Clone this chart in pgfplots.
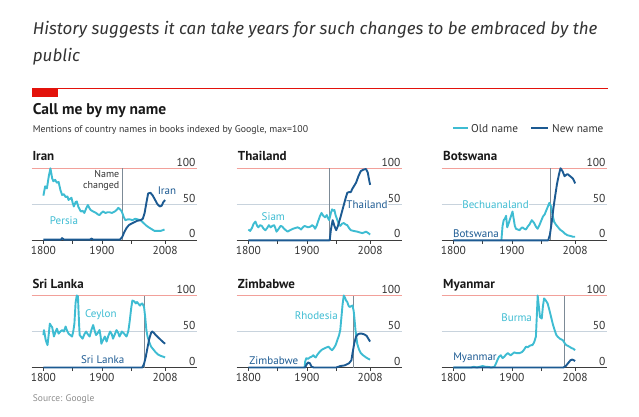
\documentclass[border=0pt]{standalone}
\usepackage{pgfplots}
\pgfplotsset{compat=1.18}
\usepackage{fontspec}
\setmainfont{PT Sans}
\newfontfamily\titlefont{Fira Sans}

\definecolor{oldc}{HTML}{3EBCD2}
\definecolor{newc}{HTML}{1C5A92}
\definecolor{redc}{HTML}{E3120B}
\definecolor{redgrid}{HTML}{F2A09A}
\definecolor{gridc}{HTML}{C8D3DD}
\definecolor{axisc}{HTML}{3D3D3D}
\definecolor{vlc}{HTML}{7C8A96}
\definecolor{txt}{HTML}{333333}
\definecolor{srcc}{HTML}{8C8C8C}

\pgfplotsset{
  panel/.style={
    scale only axis, width=165pt, height=72pt,
    xmin=1780, xmax=2062, ymin=0, ymax=100,
    axis x line*=bottom, axis y line=none,
    x axis line style={draw=axisc, line width=0.9pt, -},
    xtick={1800,1850,1900,1950,2008},
    xticklabels={1800,,1900,,2008},
    tick align=outside, major tick length=3.5pt,
    xtick style={draw=axisc, line width=0.7pt},
    xticklabel style={font=\fontsize{11.5}{13}\selectfont, text=txt, inner sep=1pt, yshift=-1.5pt},
    ytick=\empty,
    clip=false,
    anchor=south west,
  },
  oldline/.style={oldc, line width=1.9pt, line join=round, no marks},
  newline/.style={newc, line width=1.9pt, line join=round, no marks},
}

% grid, change marker and right-hand labels of one panel
\newcommand{\panelframe}[1]{%
  \draw[gridc, line width=0.8pt] (axis cs:1780,50) -- (axis cs:2062,50);
  \draw[redgrid, line width=0.9pt] (axis cs:1780,100) -- (axis cs:2062,100);
  \draw[vlc, line width=0.9pt] (axis cs:#1,0) -- (axis cs:#1,100);
  \node[anchor=south east, inner sep=0pt, font=\fontsize{11.5}{13}\selectfont, text=txt] at (axis cs:2060,102) {100};
  \node[anchor=south east, inner sep=0pt, font=\fontsize{11.5}{13}\selectfont, text=txt] at (axis cs:2060,52) {50};
  \node[anchor=south east, inner sep=0pt, font=\fontsize{11.5}{13}\selectfont, text=txt] at (axis cs:2060,3) {0};
}

\begin{document}
\begin{tikzpicture}
\useasboundingbox (0,0) rectangle (639pt,-417pt);

% ---------------- header ----------------
\node[anchor=base west, inner sep=0pt, text=txt, font=\titlefont\itshape\fontsize{17}{20}\selectfont] at (32.7pt,-35pt)
  {History suggests it can take years for such changes to be embraced by the};
\node[anchor=base west, inner sep=0pt, text=txt, font=\titlefont\itshape\fontsize{17}{20}\selectfont] at (32.7pt,-61.7pt) {public};
\draw[redc, line width=1pt] (32pt,-89pt) -- (608pt,-89pt);
\fill[redc] (32pt,-89pt) rectangle (58pt,-97pt);
\node[anchor=base west, inner sep=0pt, text=black!90, font=\bfseries\fontsize{15.5}{17}\selectfont] at (32.7pt,-114.7pt) {Call me by my name};
\node[anchor=base west, inner sep=0pt, text=txt, font=\fontsize{9.8}{12}\selectfont] at (32.7pt,-132pt)
  {Mentions of country names in books indexed by Google, max=100};
\draw[oldc, line width=2pt] (453pt,-128.3pt) -- (468pt,-128.3pt);
\node[anchor=base west, inner sep=0pt, text=txt, font=\fontsize{11.3}{13}\selectfont] at (471pt,-132pt) {Old name};
\draw[newc, line width=2pt] (531pt,-128.3pt) -- (548pt,-128.3pt);
\node[anchor=base west, inner sep=0pt, text=txt, font=\fontsize{11.3}{13}\selectfont] at (552pt,-132pt) {New name};

% ---------------- Iran ----------------
\begin{axis}[panel, at={(31.7pt,-240.3pt)}]
\panelframe{1935}
\addplot[oldline] coordinates {(1800,62)(1803,75)(1806,72)(1809,88)(1812,100)(1815,86)(1817,82)(1820,84)(1823,80)(1826,81)(1829,70)(1832,63)(1835,64)(1838,60)(1841,61)(1843,56)(1846,58)(1848,59)(1850,52)(1852,47)(1855,53)(1857,54)(1860,46)(1864,40)(1867,41)(1870,38)(1873,44)(1876,49)(1879,44)(1881,42)(1885,40)(1890,38)(1893,36)(1896,35)(1899,38)(1902,40)(1906,38)(1910,39)(1913,39)(1917,38)(1922,40)(1925,42)(1928,45)(1931,43)(1934,40)(1937,33)(1940,28)(1944,29)(1948,29)(1952,28)(1957,30)(1961,29)(1966,28)(1970,25)(1975,21)(1980,18)(1986,15)(1990,13)(1995,13)(2000,13)(2004,14)(2007,15)};
\addplot[newline] coordinates {(1800,1)(1815,1)(1830,1)(1832,3)(1835,1)(1860,1)(1880,1)(1882,2.5)(1885,1)(1910,1)(1931,1)(1935,5)(1938,11)(1942,17)(1946,21)(1950,23)(1955,25)(1960,27)(1966,28)(1970,30)(1973,38)(1976,52)(1979,65)(1983,66)(1987,62)(1991,56)(1995,50)(1999,47)(2002,48)(2005,53)(2008,56)};
\end{axis}

% ---------------- Thailand ----------------
\begin{axis}[panel, at={(236.7pt,-240.3pt)}]
\panelframe{1939}
\addplot[oldline] coordinates {(1800,15)(1803,13)(1806,17)(1809,23)(1812,26)(1815,20)(1817,18)(1820,21)(1823,20)(1826,16)(1829,14)(1832,17)(1835,21)(1838,18)(1841,20)(1844,21)(1846,17)(1848,12)(1851,15)(1855,20)(1858,19)(1861,16)(1864,14)(1867,12)(1871,14)(1876,16)(1880,17)(1884,18)(1887,17)(1890,15)(1893,18)(1896,20)(1899,19)(1902,18)(1906,19)(1909,21)(1912,19)(1914,16)(1917,21)(1919,26)(1922,33)(1925,38)(1928,34)(1931,32)(1934,35)(1936,31)(1938,28)(1941,38)(1943,43)(1945,41)(1947,42)(1949,35)(1952,28)(1955,22)(1957,20)(1960,23)(1963,24)(1966,22)(1969,21)(1972,17)(1975,14)(1980,13)(1986,12)(1990,11)(1995,10)(2001,12)(2005,10)(2008,8)};
\addplot[newline] coordinates {(1800,0)(1939,0)(1941,15)(1944,28)(1947,20)(1950,14)(1953,20)(1957,31)(1960,40)(1963,49)(1966,58)(1969,66)(1972,67)(1975,67)(1978,72)(1981,76)(1984,80)(1988,89)(1992,96)(1996,98)(2001,99)(2004,94)(2006,85)(2008,77)};
\end{axis}

% ---------------- Botswana ----------------
\begin{axis}[panel, at={(441.7pt,-240.3pt)}]
\panelframe{1966}
\addplot[oldline] coordinates {(1882,0)(1884,20)(1886,28)(1888,30)(1890,34)(1892,18)(1895,25)(1899,35)(1901,40)(1903,30)(1905,20)(1907,16)(1910,15)(1913,14)(1916,17)(1918,18)(1921,16)(1924,15)(1927,19)(1930,22)(1934,28)(1936,26)(1938,24)(1941,19)(1944,16)(1947,21)(1950,27)(1953,33)(1956,36)(1958,40)(1961,46)(1964,52)(1967,47)(1969,37)(1972,26)(1975,22)(1978,19)(1982,15)(1987,12)(1991,9)(1995,7)(2000,6)(2004,5)(2008,5)};
\addplot[newline] coordinates {(1800,0)(1962,0)(1965,8)(1968,25)(1971,45)(1974,62)(1977,78)(1980,90)(1983,100)(1985,98)(1987,95)(1990,89)(1993,91)(1995,92)(1998,90)(2001,88)(2004,86)(2006,83)(2008,79)};
\end{axis}

% ---------------- Sri Lanka ----------------
\begin{axis}[panel, at={(31.7pt,-367.5pt)}]
\panelframe{1972}
\addplot[oldline] coordinates {(1800,45)(1801,52)(1804,38)(1807,31)(1809,45)(1811,61)(1813,58)(1815,56)(1818,43)(1821,50)(1823,54)(1826,47)(1829,50)(1832,52)(1835,50)(1838,57)(1840,52)(1843,47)(1846,45)(1849,43)(1851,50)(1853,61)(1855,90)(1857,100)(1859,99)(1861,60)(1862,45)(1865,42)(1867,40)(1870,46)(1873,50)(1876,46)(1879,43)(1882,52)(1885,59)(1888,50)(1890,45)(1893,48)(1896,52)(1898,42)(1899,33)(1902,38)(1905,43)(1908,36)(1911,44)(1914,50)(1917,46)(1919,40)(1922,46)(1925,52)(1928,48)(1930,43)(1932,46)(1934,50)(1937,48)(1942,43)(1945,50)(1947,61)(1950,82)(1952,93)(1955,92)(1958,89)(1960,91)(1963,88)(1965,86)(1967,88)(1969,89)(1971,86)(1972,84)(1974,70)(1976,52)(1978,43)(1981,35)(1984,29)(1988,25)(1992,21)(1996,18)(2001,16)(2005,15)(2008,14)};
\addplot[newline] coordinates {(1800,0)(1969,0)(1972,5)(1975,15)(1978,28)(1981,40)(1984,48)(1986,50)(1989,48)(1992,45)(1996,42)(2001,38)(2005,35)(2008,33)};
\end{axis}

% ---------------- Zimbabwe ----------------
\begin{axis}[panel, at={(236.7pt,-367.5pt)}]
\panelframe{1980}
\addplot[oldline] coordinates {(1896,0)(1897,8)(1899,13)(1902,12)(1905,14)(1908,15)(1911,17)(1913,15)(1915,14)(1918,18)(1922,22)(1926,25)(1931,27)(1934,28)(1937,29)(1940,26)(1943,24)(1946,27)(1949,31)(1952,38)(1955,45)(1957,52)(1959,70)(1961,88)(1963,100)(1965,97)(1967,93)(1969,91)(1971,86)(1973,84)(1975,85)(1978,86)(1980,78)(1981,70)(1983,52)(1986,33)(1989,25)(1992,20)(1996,17)(2001,14)(2005,12)(2008,11)};
\addplot[newline] coordinates {(1800,0)(1897,0)(1900,5)(1902,7)(1905,6)(1908,1)(1912,0)(1950,0)(1957,2)(1965,3)(1972,6)(1976,10)(1978,20)(1981,34)(1984,43)(1987,46)(1990,47)(1994,47)(1998,46)(2002,44)(2005,40)(2008,36)};
\end{axis}

% ---------------- Myanmar ----------------
\begin{axis}[panel, at={(441.7pt,-367.5pt)}]
\panelframe{1989}
\addplot[oldline] coordinates {(1800,0)(1830,0)(1835,1)(1840,0)(1850,2)(1855,1)(1858,1)(1865,0)(1870,1)(1873,6)(1875,10)(1878,15)(1881,17)(1884,13)(1887,15)(1890,18)(1893,20)(1896,18)(1898,17)(1901,19)(1904,21)(1908,20)(1913,20)(1916,21)(1918,22)(1921,25)(1924,29)(1927,28)(1930,30)(1933,31)(1935,31)(1938,35)(1941,43)(1943,80)(1944,100)(1946,85)(1948,70)(1951,68)(1953,85)(1955,96)(1958,93)(1961,89)(1964,80)(1967,70)(1970,60)(1973,52)(1976,45)(1978,43)(1982,40)(1987,38)(1990,34)(1993,31)(1996,30)(1998,29)(2002,27)(2005,26)(2008,24)};
\addplot[newline] coordinates {(1800,0)(1988,0)(1992,2)(1995,5)(1998,8)(2000,10)(2003,11)(2006,10)(2008,9)};
\end{axis}

% ---------------- panel titles and series labels ----------------
\tikzset{ptitle/.style={anchor=base west, inner sep=0pt, text=black!90, font=\bfseries\fontsize{13}{15}\selectfont},
         lab/.style={inner sep=0.6pt, font=\fontsize{11}{12}\selectfont}}
\node[ptitle] at (32.3pt,-160pt) {Iran};
\node[ptitle] at (237.7pt,-160pt) {Thailand};
\node[ptitle] at (443pt,-160pt) {Botswana};
\node[ptitle] at (32.3pt,-288.3pt) {Sri Lanka};
\node[ptitle] at (237.7pt,-288.3pt) {Zimbabwe};
\node[ptitle] at (443pt,-288.3pt) {Myanmar};

\node[anchor=east, align=right, inner sep=0pt, text=txt, font=\fontsize{10}{10.5}\selectfont] at (119.5pt,-180.3pt) {Name\\changed};

\node[lab, text=newc] at (167pt,-191pt) {Iran};
\node[lab, text=oldc] at (64pt,-221pt) {Persia};
\node[lab, text=oldc] at (273.3pt,-216.3pt) {Siam};
\node[lab, text=newc, fill=white] at (367pt,-204.3pt) {Thailand};
\node[lab, text=oldc, fill=white] at (495.5pt,-204.5pt) {Bechuanaland};
\node[lab, text=newc] at (476pt,-233.7pt) {Botswana};
\node[lab, text=oldc] at (100.8pt,-314.7pt) {Ceylon};
\node[lab, text=newc] at (102.7pt,-360pt) {Sri Lanka};
\node[lab, text=oldc] at (316.3pt,-315.8pt) {Rhodesia};
\node[lab, text=newc] at (273.8pt,-360.5pt) {Zimbabwe};
\node[lab, text=oldc] at (516.7pt,-317.5pt) {Burma};
\node[lab, text=newc] at (475pt,-357.5pt) {Myanmar};

\node[anchor=base west, inner sep=0pt, text=srcc, font=\fontsize{9.5}{11}\selectfont] at (32.7pt,-401pt) {Source: Google};
\end{tikzpicture}
\end{document}
